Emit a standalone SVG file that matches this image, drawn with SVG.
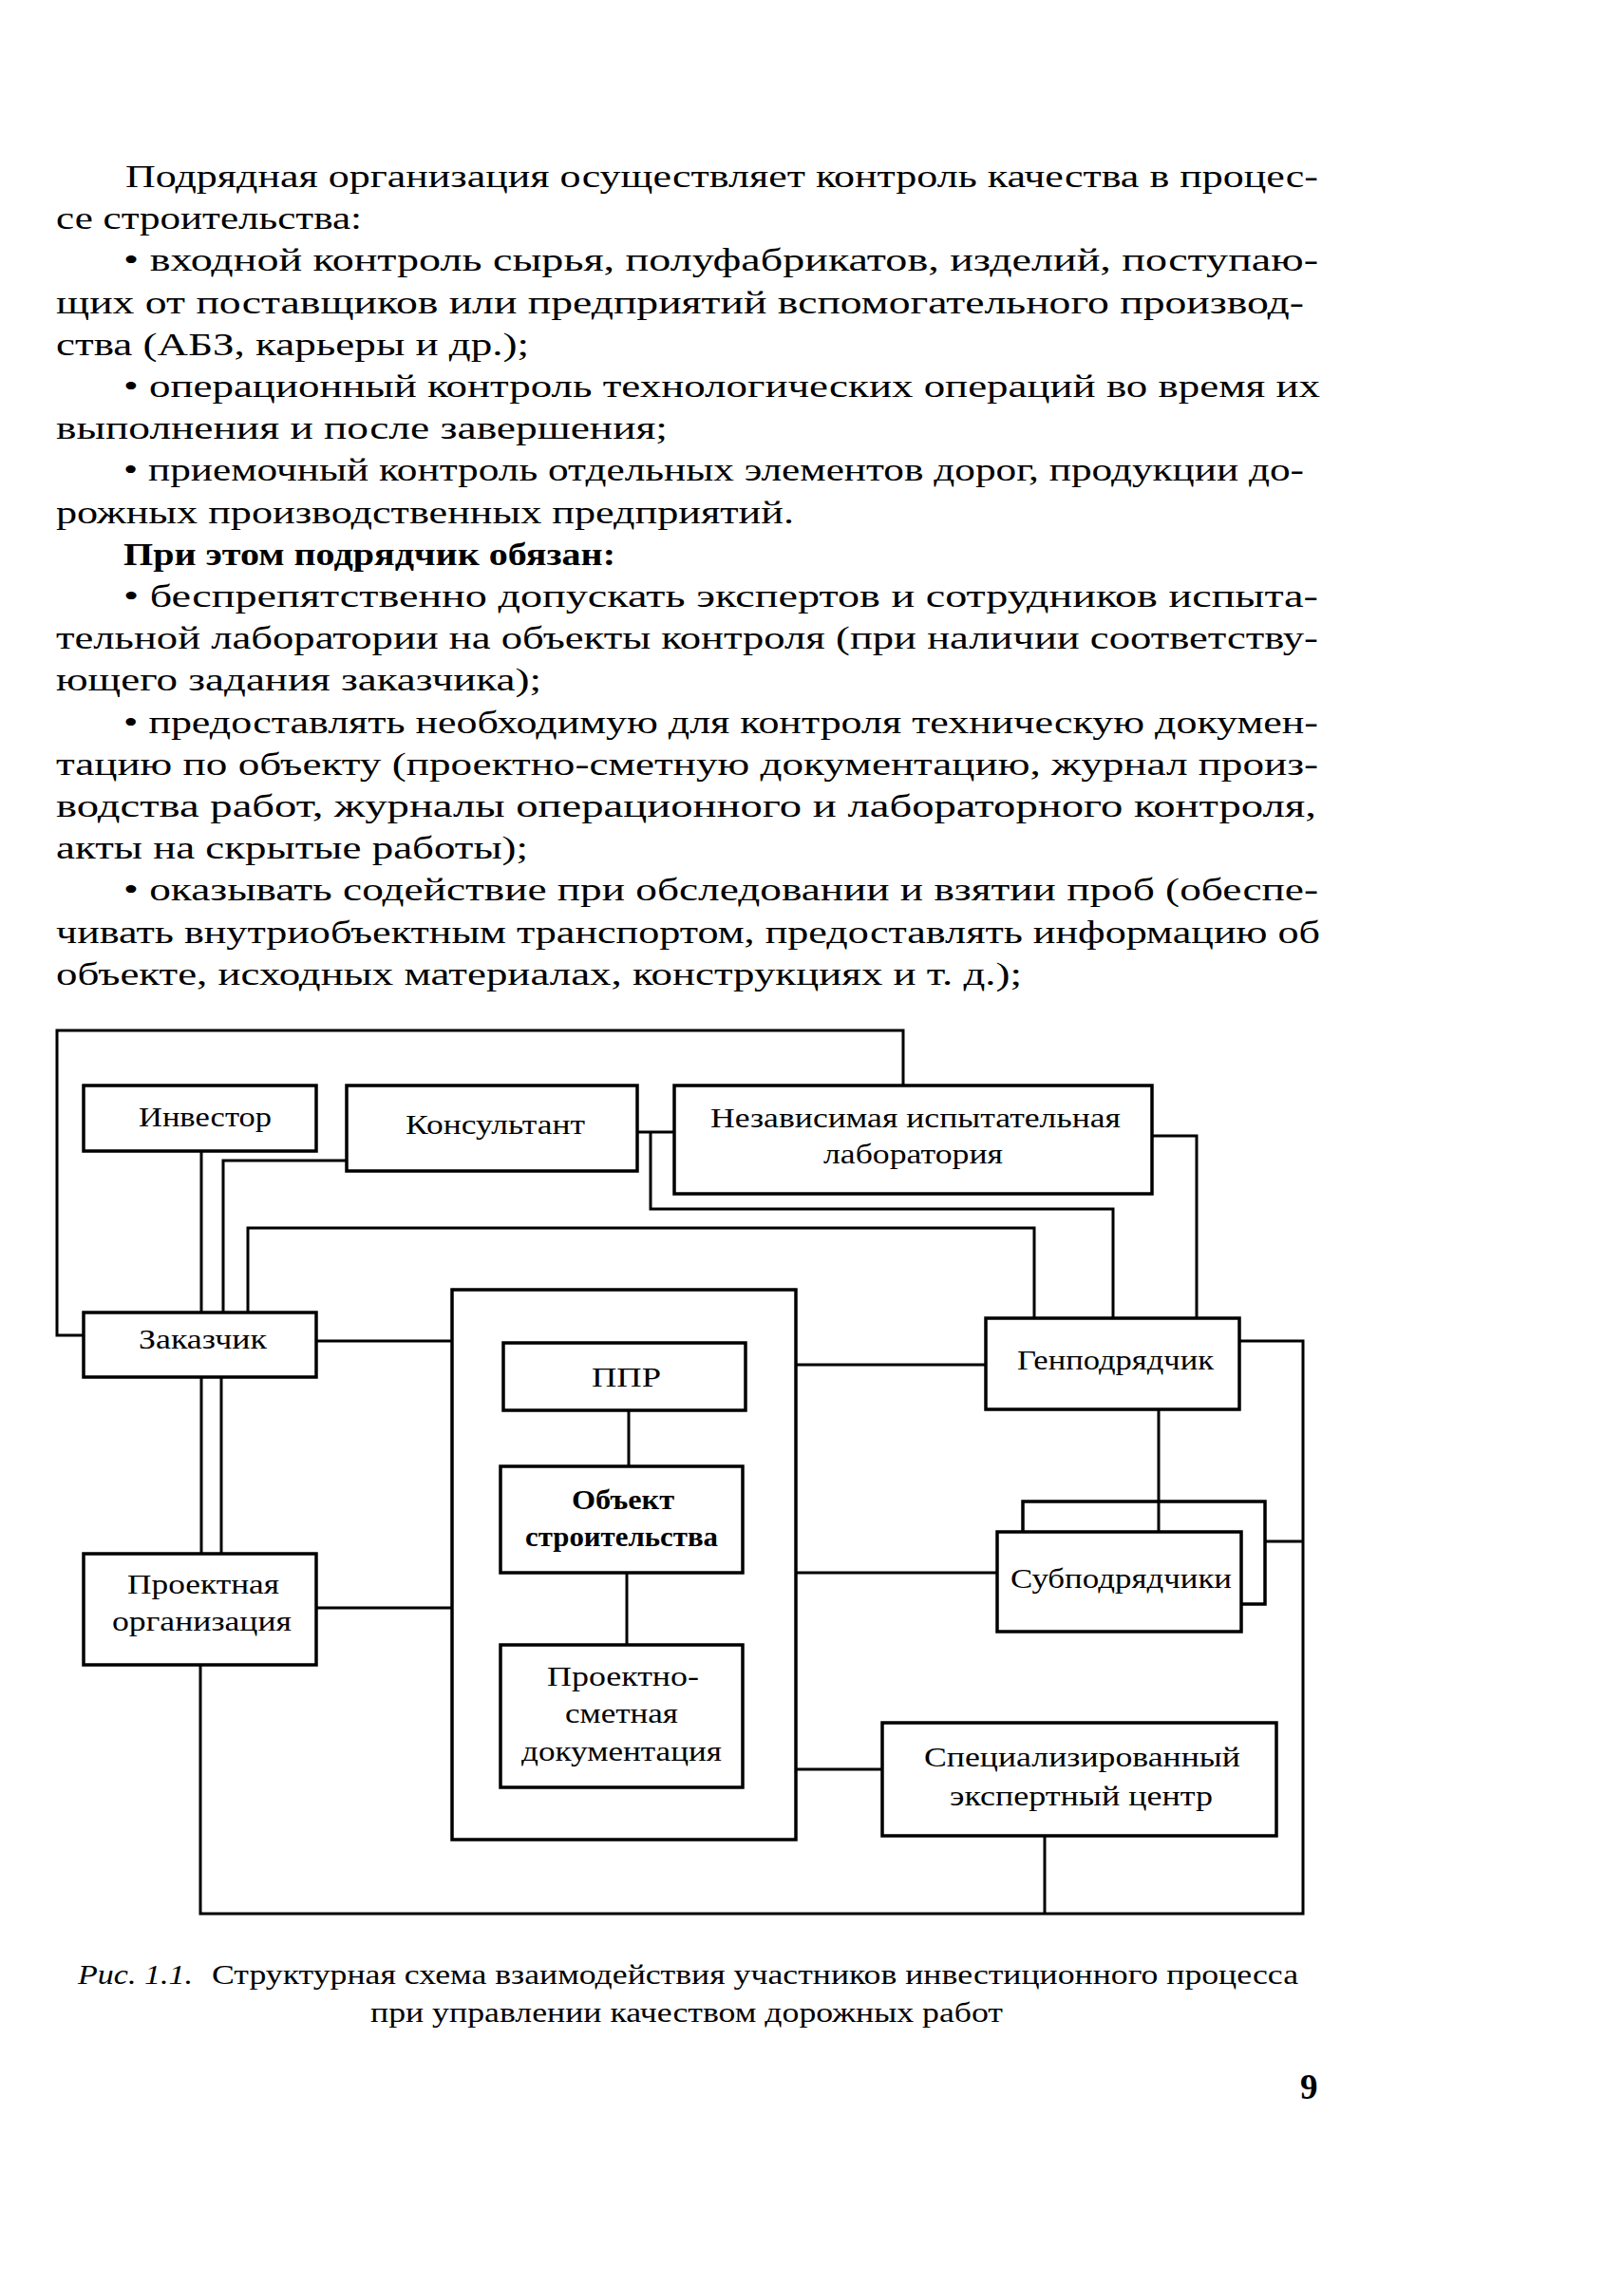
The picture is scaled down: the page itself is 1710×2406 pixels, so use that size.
<svg xmlns="http://www.w3.org/2000/svg" width="1710" height="2406" viewBox="0 0 1710 2406">
<style>
.bg{fill:#fff}
.t{font-family:'Liberation Serif',serif;font-size:33px;fill:#000}
.tb{font-family:'Liberation Serif',serif;font-size:33px;font-weight:bold;fill:#000}
.l{font-family:'Liberation Serif',serif;font-size:30px;fill:#000}
.lb{font-family:'Liberation Serif',serif;font-size:30px;font-weight:bold;fill:#000}
.cap{font-family:'Liberation Serif',serif;font-size:30px;fill:#000}
.capi{font-family:'Liberation Serif',serif;font-size:30px;font-style:italic;fill:#000}
.pg{font-family:'Liberation Serif',serif;font-size:37px;font-weight:bold;fill:#000}
.box{fill:#fff;stroke:#000;stroke-width:3.5}
.c{fill:none;stroke:#000;stroke-width:3}
</style>
<rect class="bg" x="0" y="0" width="1710" height="2406"/>

<g id="body-text">
<text class="t" x="132" y="197" textLength="1256" lengthAdjust="spacingAndGlyphs">Подрядная организация осуществляет контроль качества в процес-</text>
<text class="t" x="59" y="241" textLength="322" lengthAdjust="spacingAndGlyphs">се строительства:</text>
<text class="t" x="130" y="285" textLength="1258" lengthAdjust="spacingAndGlyphs">• входной контроль сырья, полуфабрикатов, изделий, поступаю-</text>
<text class="t" x="59" y="330" textLength="1314" lengthAdjust="spacingAndGlyphs">щих от поставщиков или предприятий вспомогательного производ-</text>
<text class="t" x="59" y="374" textLength="498" lengthAdjust="spacingAndGlyphs">ства (АБЗ, карьеры и др.);</text>
<text class="t" x="130" y="418" textLength="1260" lengthAdjust="spacingAndGlyphs">• операционный контроль технологических операций во время их</text>
<text class="t" x="59" y="462" textLength="644" lengthAdjust="spacingAndGlyphs">выполнения и после завершения;</text>
<text class="t" x="130" y="506" textLength="1243" lengthAdjust="spacingAndGlyphs">• приемочный контроль отдельных элементов дорог, продукции до-</text>
<text class="t" x="59" y="551" textLength="777" lengthAdjust="spacingAndGlyphs">рожных производственных предприятий.</text>
<text class="tb" x="130" y="595" textLength="518" lengthAdjust="spacingAndGlyphs">При этом подрядчик обязан:</text>
<text class="t" x="130" y="639" textLength="1258" lengthAdjust="spacingAndGlyphs">• беспрепятственно допускать экспертов и сотрудников испыта-</text>
<text class="t" x="59" y="683" textLength="1329" lengthAdjust="spacingAndGlyphs">тельной лаборатории на объекты контроля (при наличии соответству-</text>
<text class="t" x="59" y="727" textLength="511" lengthAdjust="spacingAndGlyphs">ющего задания заказчика);</text>
<text class="t" x="130" y="772" textLength="1258" lengthAdjust="spacingAndGlyphs">• предоставлять необходимую для контроля техническую докумен-</text>
<text class="t" x="59" y="816" textLength="1329" lengthAdjust="spacingAndGlyphs">тацию по объекту (проектно-сметную документацию, журнал произ-</text>
<text class="t" x="59" y="860" textLength="1327" lengthAdjust="spacingAndGlyphs">водства работ, журналы операционного и лабораторного контроля,</text>
<text class="t" x="59" y="904" textLength="497" lengthAdjust="spacingAndGlyphs">акты на скрытые работы);</text>
<text class="t" x="130" y="948" textLength="1258" lengthAdjust="spacingAndGlyphs">• оказывать содействие при обследовании и взятии проб (обеспе-</text>
<text class="t" x="59" y="993" textLength="1331" lengthAdjust="spacingAndGlyphs">чивать внутриобъектным транспортом, предоставлять информацию об</text>
<text class="t" x="59" y="1037" textLength="1017" lengthAdjust="spacingAndGlyphs">объекте, исходных материалах, конструкциях и т. д.);</text>
</g>

<g id="n-center">
<rect class="box" x="476" y="1358" width="362" height="579"/>
</g>
<g id="n-investor">
<rect class="box" x="88" y="1143" width="245" height="69"/>
<text class="l" x="146" y="1186" textLength="140" lengthAdjust="spacingAndGlyphs">Инвестор</text>
</g>
<g id="n-consultant">
<rect class="box" x="365" y="1143" width="306" height="90"/>
<text class="l" x="427" y="1194" textLength="189" lengthAdjust="spacingAndGlyphs">Консультант</text>
</g>
<g id="n-lab">
<rect class="box" x="710" y="1143" width="503" height="114"/>
<text class="l" x="748" y="1187" textLength="432" lengthAdjust="spacingAndGlyphs">Независимая испытательная</text>
<text class="l" x="867" y="1225" textLength="189" lengthAdjust="spacingAndGlyphs">лаборатория</text>
</g>
<g id="n-customer">
<rect class="box" x="88" y="1382" width="245" height="68"/>
<text class="l" x="146" y="1420" textLength="135" lengthAdjust="spacingAndGlyphs">Заказчик</text>
</g>
<g id="n-design-org">
<rect class="box" x="88" y="1636" width="245" height="117"/>
<text class="l" x="134" y="1678" textLength="160" lengthAdjust="spacingAndGlyphs">Проектная</text>
<text class="l" x="118" y="1717" textLength="189" lengthAdjust="spacingAndGlyphs">организация</text>
</g>
<g id="n-ppr">
<rect class="box" x="530" y="1414" width="255" height="71"/>
<text class="l" x="623" y="1460" textLength="73" lengthAdjust="spacingAndGlyphs">ППР</text>
</g>
<g id="n-object">
<rect class="box" x="527" y="1544" width="255" height="112"/>
<text class="lb" x="602" y="1589" textLength="108" lengthAdjust="spacingAndGlyphs">Объект</text>
<text class="lb" x="553" y="1628" textLength="203" lengthAdjust="spacingAndGlyphs">строительства</text>
</g>
<g id="n-psd">
<rect class="box" x="527" y="1732" width="255" height="150"/>
<text class="l" x="576" y="1775" textLength="160" lengthAdjust="spacingAndGlyphs">Проектно-</text>
<text class="l" x="595" y="1814" textLength="119" lengthAdjust="spacingAndGlyphs">сметная</text>
<text class="l" x="549" y="1854" textLength="211" lengthAdjust="spacingAndGlyphs">документация</text>
</g>
<g id="n-gencontractor">
<rect class="box" x="1038" y="1388" width="267" height="96"/>
<text class="l" x="1071" y="1442" textLength="207" lengthAdjust="spacingAndGlyphs">Генподрядчик</text>
</g>
<g id="n-subcontractors">
<rect class="box" x="1077" y="1581" width="255" height="108"/>
<rect class="box" x="1050" y="1613" width="257" height="105"/>
<text class="l" x="1064" y="1672" textLength="233" lengthAdjust="spacingAndGlyphs">Субподрядчики</text>
</g>
<g id="n-expert-center">
<rect class="box" x="929" y="1814" width="415" height="119"/>
<text class="l" x="973" y="1860" textLength="333" lengthAdjust="spacingAndGlyphs">Специализированный</text>
<text class="l" x="1000" y="1901" textLength="277" lengthAdjust="spacingAndGlyphs">экспертный центр</text>
</g>

<g id="connectors">
<path class="c" d="M88,1406 H60 V1085 H951 V1143"/>
<path class="c" d="M212,1212 V1382"/>
<path class="c" d="M365,1222 H235 V1382"/>
<path class="c" d="M261,1382 V1293 H1089 V1388"/>
<path class="c" d="M212,1450 V1636"/>
<path class="c" d="M233,1450 V1636"/>
<path class="c" d="M333,1412 H476"/>
<path class="c" d="M671,1192 H710"/>
<path class="c" d="M685,1192 V1273 H1172 V1388"/>
<path class="c" d="M1213,1196 H1260 V1388"/>
<path class="c" d="M838,1437 H1038"/>
<path class="c" d="M1220,1484 V1613"/>
<path class="c" d="M1305,1412 H1372 V2015 H211 V1753"/>
<path class="c" d="M1332,1623 H1372"/>
<path class="c" d="M838,1656 H1050"/>
<path class="c" d="M838,1863 H929"/>
<path class="c" d="M1100,1933 V2015"/>
<path class="c" d="M333,1693 H476"/>
<path class="c" d="M662,1485 V1544"/>
<path class="c" d="M660,1656 V1732"/>
</g>

<g id="caption">
<text class="capi" x="82" y="2089" textLength="121" lengthAdjust="spacingAndGlyphs">Рис. 1.1.</text>
<text class="cap" x="223" y="2089" textLength="1144" lengthAdjust="spacingAndGlyphs">Структурная схема взаимодействия участников инвестиционного процесса</text>
<text class="cap" x="390" y="2129" textLength="666" lengthAdjust="spacingAndGlyphs">при управлении качеством дорожных работ</text>
</g>
<text class="pg" x="1369" y="2210">9</text>
</svg>
